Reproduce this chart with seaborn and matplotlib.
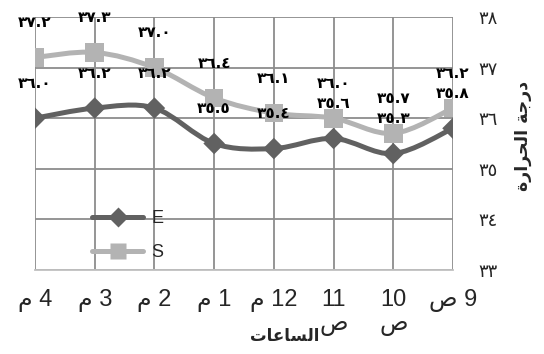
import matplotlib
matplotlib.use("Agg")
import matplotlib.pyplot as plt
import seaborn as sns
import pandas as pd
from matplotlib.path import Path
from matplotlib.patches import PathPatch
from matplotlib.lines import Line2D

# ---- data (chronological order, axis is drawn right-to-left) ----
hours = ["\uFEB9 9", "10\n\uFEB9", "11\n\uFEB9", "\uFEE1 12",
         "\uFEE1 1", "\uFEE1 2", "\uFEE1 3", "\uFEE1 4"]
series_names = ["E", "S"]
e_values = [35.8, 35.3, 35.6, 35.4, 35.5, 36.2, 36.2, 36.0]
s_values = [36.2, 35.7, 36.0, 36.1, 36.4, 37.0, 37.3, 37.2]
y_ticks = [33, 34, 35, 36, 37, 38]
# Arabic titles in visual (shaped, reversed) order
x_title = "\uFE95\uFE8E\uFECB\uFE8E\uFEB4\uFEDF\uFE8D"            # الساعات
y_title = ("\uFE93\uFEAD\uFE8D\uFEAE\uFEA4\uFEDF\uFE8D" + " " +
           "\uFE94\uFE9F\uFEAD\uFEA9")                           # درجة الحرارة

colors = {"E": "#616161", "S": "#b3b3b3"}
markers = {"E": "D", "S": "s"}


def to_ar(s):
    return "".join(chr(0x660 + int(c)) if c.isdigit() else c for c in s)


df = pd.DataFrame({
    "pos": list(range(len(hours))) * 2,
    "value": e_values + s_values,
    "series": ["E"] * len(hours) + ["S"] * len(hours),
})

sns.set_theme(style="white")
plt.rcParams["font.family"] = ["Liberation Sans", "DejaVu Sans"]

fig = plt.figure(figsize=(5.44, 3.54), dpi=100)
ax = fig.add_axes([35 / 544, 84 / 354, (453 - 35) / 544, (270 - 17) / 354])


def smooth_path(xs, ys):
    pts = list(zip(xs, ys))
    n = len(pts)
    verts = [pts[0]]
    codes = [Path.MOVETO]
    for i in range(n - 1):
        p0 = pts[i - 1] if i > 0 else pts[i]
        p1 = pts[i]
        p2 = pts[i + 1]
        p3 = pts[i + 2] if i + 2 < n else pts[i + 1]
        c1 = (p1[0] + (p2[0] - p0[0]) / 6, p1[1] + (p2[1] - p0[1]) / 6)
        c2 = (p2[0] - (p3[0] - p1[0]) / 6, p2[1] - (p3[1] - p1[1]) / 6)
        verts += [c1, c2, p2]
        codes += [Path.CURVE4] * 3
    return Path(verts, codes)


for name in series_names:
    sub = df[df["series"] == name]
    ax.add_patch(PathPatch(smooth_path(sub["pos"].tolist(), sub["value"].tolist()),
                           facecolor="none", edgecolor=colors[name], lw=3.6,
                           zorder=3 if name == "E" else 5, capstyle="round"))

sns.scatterplot(data=df[df["series"] == "E"], x="pos", y="value", color=colors["E"],
                marker="D", s=120, edgecolor="none", ax=ax, zorder=4, legend=False)
sns.scatterplot(data=df[df["series"] == "S"], x="pos", y="value", color=colors["S"],
                marker="s", s=180, edgecolor="none", ax=ax, zorder=6, legend=False)

for name, vals in (("E", e_values), ("S", s_values)):
    for i, v in enumerate(vals):
        ax.annotate(to_ar(f"{v:.1f}"), (i, v), xytext=(0, 25), textcoords="offset points",
                    ha="center", va="center", fontsize=11, fontweight="bold",
                    family="DejaVu Sans", color="black", zorder=8)

ax.set_xlim(len(hours) - 1, 0)
ax.set_ylim(min(y_ticks), max(y_ticks))
ax.set_xticks(range(len(hours)))
ax.set_xticklabels(hours, fontsize=17, linespacing=1.15)
ax.set_yticks(y_ticks)
ax.set_yticklabels([to_ar(str(t)) for t in y_ticks], fontsize=13, family="DejaVu Sans")
ax.yaxis.tick_right()
ax.tick_params(axis="y", length=0, pad=18)
ax.tick_params(axis="x", length=0, pad=13.5)
ax.set_xlabel("")
ax.set_ylabel("")
ax.grid(True, color="#8c8c8c", lw=1.3)
ax.set_axisbelow(True)
for sp in ("top", "left", "right"):
    ax.spines[sp].set_visible(False)
ax.spines["bottom"].set_color("#c0c0c0")
ax.spines["bottom"].set_linewidth(1.3)

fig.text(285 / 544, 1 - 336 / 354, x_title, ha="center", va="center", fontsize=12,
         fontweight="bold", family="DejaVu Sans")
fig.text(523 / 544, 1 - 136 / 354, y_title, ha="center", va="center", rotation=90,
         fontsize=12.5, fontweight="bold", family="DejaVu Sans")

handles = [Line2D([], [], color=colors[n], lw=3.6, marker=markers[n],
                  markersize=10 if n == "E" else 12, markeredgecolor="none")
           for n in series_names]
fig.legend(handles, series_names, loc="upper left", bbox_to_anchor=(92 / 544, 1 - 210 / 354),
           frameon=False, fontsize=13, handlelength=2.85, handletextpad=0.45,
           labelspacing=0.95, borderpad=0, borderaxespad=0)

fig.savefig("out.png", dpi=100)
